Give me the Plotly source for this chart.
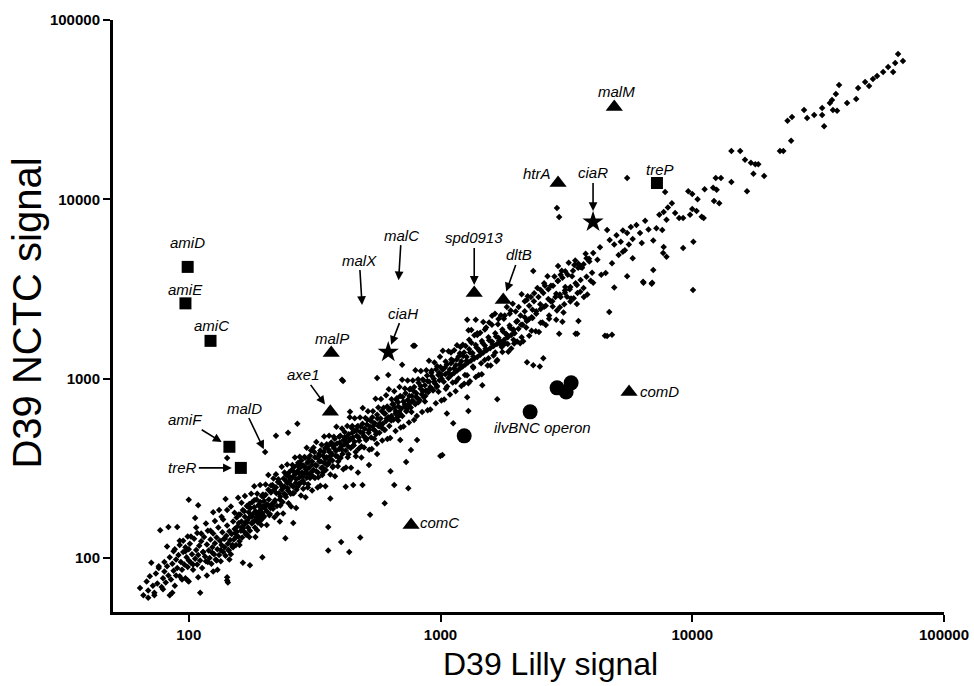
import numpy as np
import plotly.graph_objects as go

# ---------------- data ----------------
background_genes = [
    (64,68),(66,62),(68,74),(69,66),(69,60),(70,79),(72,70),(73,64),(74,82),(75,72),(76,88),(77,143),
    (78,69),(79,77),(80,84),(80,95),(81,73),(82,90),(83,149),(83,80),(84,101),(85,76),(86,93),(86,64),
    (87,85),(88,112),(88,70),(89,98),(90,149),(90,88),(91,104),(92,79),(92,118),(93,95),(94,86),
    (95,108),(95,125),(96,92),(97,77),(97,115),(98,101),(99,89),(99,132),(100,97),(100,112),(100,74),
    (100,211),(101,120),(102,94),(103,105),(104,86),(105,128),(106,99),(106,167),(107,111),(108,92),
    (108,138),(109,104),(109,197),(110,117),(111,97),(111,64),(112,124),(113,88),(114,108),(115,131),
    (116,102),(117,96),(118,119),(118,80),(119,142),(120,110),(121,100),(122,127),(123,93),(124,115),
    (125,137),(125,84),(125,180),(126,105),(127,121),(128,98),(129,130),(130,112),(130,86),(131,148),
    (132,104),(133,125),(134,96),(135,118),(135,170),(136,139),(137,108),(138,128),(139,115),(140,103),
    (140,213),(141,133),(142,152),(142,361),(142,75),(142,78),(143,120),(143,73),(144,110),(145,141),
    (145,98),(146,126),(147,105),(148,136),(149,118),(150,160),(150,115),(151,127),(152,145),(153,138),
    (154,118),(155,168),(155,140),(156,150),(157,132),(158,157),(158,175),(159,124),(160,175),(161,142),
    (162,160),(162,148),(163,130),(164,185),(164,94),(165,152),(166,140),(166,182),(167,170),(168,158),
    (169,135),(170,195),(170,158),(171,162),(172,148),(173,180),(174,168),(174,200),(175,142),(175,91),
    (176,190),(177,172),(178,156),(178,170),(179,205),(180,176),(181,160),(182,192),(182,210),(183,148),
    (184,182),(185,168),(186,212),(186,165),(187,175),(187,143),(188,158),(189,196),(190,180),(190,198),
    (191,170),(192,205),(193,162),(194,188),(194,172),(195,222),(196,178),(196,101),(197,195),(198,168),
    (198,220),(199,208),(200,190),(201,390),(202,225),(203,198),(204,182),(206,198),(207,240),(208,212),
    (210,176),(211,190),(212,232),(214,200),(215,255),(216,188),(218,240),(219,205),(220,210),(222,248),
    (222,480),(223,230),(224,195),(226,265),(227,275),(228,230),(230,212),(230,160),(231,220),(232,258),
    (234,240),(235,250),(236,205),(238,278),(239,228),(240,250),(242,225),(242,129),(243,270),(244,290),
    (246,262),(247,245),(248,238),(248,499),(250,300),(251,285),(252,270),(254,228),(255,255),(256,310),
    (258,282),(259,230),(260,250),(260,157),(262,322),(263,300),(264,292),(266,262),(267,275),(268,240),
    (270,305),(270,560),(271,250),(272,340),(274,280),(275,295),(276,318),(278,262),(279,330),(280,350),
    (282,300),(283,285),(284,270),(286,328),(287,262),(288,295),(290,362),(291,320),(292,312),(294,280),
    (295,298),(296,340),(298,258),(299,345),(300,318),(303,372),(304,290),(306,300),(308,330),(309,345),
    (312,285),(313,310),(315,390),(317,365),(318,330),(321,305),(322,328),(324,362),(326,300),(327,282),
    (330,345),(331,372),(333,398),(335,345),(336,318),(339,290),(340,320),(342,372),(344,390),(345,340),
    (348,410),(349,358),(350,310),(353,365),(354,330),(356,420),(358,110),(358,149),(359,335),(360,400),
    (362,390),(365,352),(365,215),(366,372),(368,440),(371,380),(372,350),(374,325),(377,410),(378,425),
    (380,462),(384,370),(384,395),(388,435),(390,368),(392,345),(396,405),(398,440),(400,480),(403,123),
    (404,420),(406,985),(406,402),(408,380),(410,972),(412,455),(414,430),(416,505),(420,398),(420,250),
    (422,470),(424,440),(428,365),(430,418),(432,490),(434,108),(436,455),(437,653),(438,462),(440,410),
    (444,530),(446,500),(448,470),(450,255),(452,425),(455,445),(456,510),(460,390),(464,515),(465,480),
    (470,545),(470,300),(473,470),(475,450),(480,505),(480,130),(482,540),(485,420),(490,560),(490,255),
    (491,500),(495,480),(500,525),(500,470),(506,455),(510,555),(512,590),(518,500),(520,515),(520,330),
    (524,540),(525,174),(530,470),(530,580),(536,610),(540,545),(542,520),(548,565),(551,510),(554,490),
    (560,630),(560,1010),(560,380),(562,600),(566,545),(572,500),(574,565),(578,600),(584,660),(586,530),
    (590,560),(596,520),(598,640),(600,202),(602,640),(608,580),(611,600),(614,700),(620,610),(620,1050),
    (624,670),(626,545),(632,675),(633,305),(637,585),(638,620),(644,720),(650,590),(650,720),(655,255),
    (656,690),(662,640),(664,660),(668,760),(674,610),(678,740),(680,700),(686,650),(692,800),(692,630),
    (692,455),(698,680),(704,1195),(705,620),(707,790),(712,745),(719,700),(722,720),(726,830),(730,343),
    (733,660),(737,680),(740,760),(745,245),(747,720),(752,800),(754,870),(762,690),(763,400),(768,745),
    (770,800),(778,750),(779,1524),(784,850),(786,900),(790,1524),(794,720),(800,790),(802,830),(807,455),
    (810,780),(817,740),(818,950),(826,760),(834,880),(834,910),(842,820),(850,990),(852,850),(858,790),
    (866,920),(870,800),(875,860),(884,1040),(888,970),(893,840),(902,960),(907,880),(911,900),(920,1080),
    (926,1030),(930,870),(940,1000),(946,960),(950,940),(960,1130),(966,900),(970,910),(980,1050),
    (987,1080),(990,980),(998,370),(1000,1160),(1008,1050),(1010,1000),(1017,375),(1020,1120),(1030,960),
    (1040,1150),(1045,1060),(1050,880),(1060,1200),(1060,640),(1070,1080),(1075,1010),(1090,1130),
    (1100,1220),(1100,1400),(1105,1050),(1120,1260),(1123,565),(1130,1140),(1135,1080),(1150,1190),
    (1150,960),(1160,1280),(1165,1110),(1180,1330),(1190,1200),(1195,1140),(1200,1500),(1210,1250),
    (1225,1170),(1230,1340),(1240,1400),(1250,1050),(1255,1200),(1270,1320),(1270,1260),(1276,2128),
    (1276,789),(1285,1230),(1290,660),(1290,944),(1300,1460),(1300,1650),(1310,1400),(1320,1260),
    (1325,1870),(1340,1390),(1350,1330),(1350,1150),(1360,1290),(1380,1540),(1380,2128),(1390,1490),
    (1400,1320),(1400,1750),(1420,1450),(1430,1420),(1440,1360),(1450,1220),(1460,1620),(1466,920),
    (1470,1580),(1480,1400),(1500,1530),(1500,1880),(1510,1470),(1525,1440),(1550,1700),(1550,1300),
    (1560,1640),(1575,1480),(1600,1610),(1600,2000),(1610,1560),(1625,1520),(1650,1790),(1650,1400),
    (1660,1720),(1675,1560),(1680,1270),(1680,769),(1700,1690),(1700,2150),(1710,1640),(1730,1600),
    (1750,1500),(1760,1880),(1770,1830),(1775,1540),(1790,1650),(1800,2250),(1820,1780),(1830,1760),
    (1850,1700),(1850,1560),(1880,1980),(1890,1920),(1900,2400),(1910,1750),(1940,1870),(1950,1650),
    (1950,1880),(1970,1790),(2000,2080),(2020,2100),(2040,1900),(2080,2250),(2090,2000),(2100,1700),
    (2120,2000),(2160,2380),(2160,2200),(2200,2100),(2200,2750),(2206,1236),(2240,2140),(2250,2550),
    (2300,2200),(2300,1850),(2320,2420),(2335,3990),(2335,1190),(2350,2700),(2400,2300),(2400,2380),
    (2450,2850),(2480,1170),(2490,2600),(2500,2450),(2500,2050),(2560,3000),(2560,1300),(2580,2520),
    (2600,3300),(2620,2550),(2680,3150),(2680,2780),(2700,2250),(2740,2700),(2780,2700),(2800,3300),
    (2860,2850),(2880,2980),(2900,2400),(2900,8950),(2920,3500),(2930,4250),(2960,7980),(2960,1778),
    (2980,2950),(3000,3800),(3000,2850),(3050,3650),(3050,2075),(3100,2600),(3120,3100),(3120,3010),
    (3130,3250),(3200,3800),(3260,3150),(3280,3250),(3300,2800),(3360,4000),(3400,4300),(3440,3400),
    (3440,1778),(3480,3330),(3490,1778),(3500,3000),(3520,4150),(3530,2100),(3590,4200),(3600,3550),
    (3700,4350),(3700,3200),(3800,3700),(3800,4700),(3900,4500),(4000,3900),(4040,5020),(4040,3430),
    (4200,4600),(4300,5400),(4350,3800),(4500,1735),(4530,3890),(4590,6740),(4590,1730),(4680,2355),
    (4700,5940),(4800,4400),(4800,1760),(4900,5600),(4900,3220),(5000,6300),(5100,4900),(5200,5800),
    (5300,6700),(5300,5100),(5400,5200),(5510,6500),(5510,3730),(5510,13150),(5600,5600),(5700,7000),
    (5800,6000),(5800,4700),(6000,7200),(6200,6500),(6300,5700),(6380,3470),(6400,3430),(6500,7600),
    (6700,6800),(6900,3380),(6930,3430),(7000,5900),(7000,4040),(7200,6900),(7400,8200),(7600,6740),
    (7660,5020),(7700,8500),(7700,5430),(7800,11000),(7900,7700),(7900,4780),(8000,9000),(8300,9500),
    (8550,8400),(8870,7870),(9200,7870),(9200,5360),(9640,11100),(9800,8200),(10000,10700),(10000,8830),
    (10070,3125),(10100,5800),(10400,8620),(10500,10000),(10900,8000),(11100,7870),(11200,11400),
    (12100,11600),(12200,9800),(12400,13150),(12500,11300),(12800,9500),(13000,13150),(14300,12500),
    (14300,18600),(15500,18600),(16200,16600),(16500,11100),(17100,16000),(17500,13900),(17800,15700),
    (18300,15700),(19300,13500),(22300,18600),(23000,18600),(23900,27400),(24700,21200),(24900,28800),
    (27800,31500),(28600,28400),(30500,29500),(32800,32300),(32800,29500),(33400,25600),(35200,34400),
    (35900,35800),(36200,31500),(37200,38700),(37600,31200),(38300,43400),(41200,34400),(44800,36300),
    (45600,41800),(48600,45100),(50400,42800),(52200,46900),(54200,48800),(57300,51300),(60000,54700),
    (62800,51300),(64000,57500),(65700,64600),(68700,59000),
]

# genes lying near the edges of the main band
band_edge_genes = [
    (71,94),(73,62),(76,90),(79,67),(82,116),(84,62),(87,109),(89,80),(92,125),(94,76),(97,109),(99,75),
    (102,132),(104,92),(107,148),(109,78),(112,137),(114,108),(117,156),(119,95),(122,142),(124,107),
    (127,161),(129,97),(132,185),(134,111),(137,164),(139,128),(142,185),(144,111),(147,194),(149,116),
    (152,179),(154,131),(157,217),(159,118),(162,203),(164,146),(167,222),(169,137),(172,193),(174,131),
    (177,228),(179,158),(182,251),(184,131),(187,228),(189,180),(192,255),(194,153),(197,226),(199,171),
    (202,257),(204,153),(207,290),(209,173),(212,254),(214,195),(217,278),(219,169),(222,293),(225,176),
    (228,266),(231,196),(234,323),(237,177),(240,300),(243,219),(246,332),(249,202),(252,279),(255,194),
    (258,330),(261,230),(264,364),(267,190),(270,329),(273,259),(276,367),(279,223),(282,327),(285,243),
    (288,366),(291,218),(294,412),(297,247),(300,360),(303,279),(306,398),(309,238),(313,413),(317,279),
    (321,443),(325,247),(329,380),(333,253),(337,428),(341,300),(345,476),(349,251),(353,431),(357,339),
    (361,480),(365,292),(369,429),(373,321),(377,474),(381,286),(386,540),(391,325),(396,475),(401,361),
    (406,528),(411,313),(416,472),(421,320),(426,545),(431,379),(436,610),(441,319),(446,544),(451,424),
    (456,601),(461,369),(467,542),(473,407),(479,608),(485,364),(491,687),(497,413),(503,604),(509,463),
    (515,659),(521,401),(527,586),(533,405),(539,658),(545,463),(552,773),(559,434),(566,690),(573,544),
    (580,771),(587,452),(594,689),(601,517),(608,808),(615,461),(623,872),(631,467),(639,767),(647,595),
    (655,851),(663,511),(671,778),(679,584),(687,900),(695,535),(704,985),(713,542),(722,881),(731,658),
    (740,977),(749,569),(758,879),(767,652),(776,978),(785,589),(795,1113),(805,620),(815,994),(825,759),
    (835,1102),(845,651),(856,981),(867,746),(878,1115),(889,667),(900,1260),(911,674),(922,1107),
    (934,859),(946,1230),(958,729),(970,1174),(982,845),(995,1324),(1008,756),(1021,1429),(1034,765),
    (1048,1247),(1062,903),(1076,1420),(1090,817),(1104,1280),(1118,951),(1133,1439),(1148,850),
    (1163,1535),(1178,1001),(1194,1385),(1210,911),(1226,1545),(1242,936),(1258,1522),(1275,1045),
    (1292,1861),(1309,969),(1327,1584),(1345,1170),(1363,1744),(1381,1022),(1400,1792),(1419,1050),
    (1438,1803),(1458,1057),(1478,2069),(1498,1273),(1518,1928),(1539,1185),(1560,2059),(1581,1185),
    (1602,2243),(1624,1348),(1646,2304),(1668,1251),(1691,2012),(1714,1577),(1737,2258),(1761,1408),
    (1785,2160),(1809,1574),(1834,2512),(1859,1413),(1884,2299),(1910,1471),(1936,2614),(1962,1570),
    (1989,2367),(2016,1613),(2044,2514),(2072,1575),(2100,2961),(2130,1619),(2160,2700),(2190,1927),
    (2220,2886),(2250,1733),(2285,2855),(2320,2181),(2355,2991),(2390,1840),(2425,3201),(2460,1820),
    (2500,3125),(2540,2058),(2580,3405),(2620,1991),(2660,3724),(2700,2160),(2745,3294),(2790,2525),
    (2835,3714),(2880,2131),(2930,3516),(2980,2503),(3030,4000),(3080,2341),(3130,3975),(3180,2862),
    (3230,4425),(3280,2690),(3330,3730),(3380,2806),(3430,4562),(3480,2610),(3530,4378),(3590,3054),
    (3650,4161),(3710,2857),(3770,4976),(3830,2950),(3890,4668),(3950,3516),
]
bg_x = [p[0] for p in background_genes] + [p[0] for p in band_edge_genes]
bg_y = [p[1] for p in background_genes] + [p[1] for p in band_edge_genes]

square_genes = ["amiD", "amiE", "amiC", "amiF", "treR", "treP"]
square_x = [99, 97, 122, 145, 161, 7240]
square_y = [4200, 2630, 1625, 417, 318, 12330]

triangle_genes = ["malM", "htrA", "spd0913", "dltB", "malP", "axe1", "comD", "comC"]
triangle_x = [4900, 2930, 1361, 1775, 368, 365, 5610, 764]
triangle_y = [32700, 12330, 3008, 2748, 1390, 653, 843, 153]

star_genes = ["ciaH", "ciaR"]
star_x = [620, 4036]
star_y = [1406, 7480]

ilv_label = "ilvBNC operon"
ilv_x = [1242, 2270, 2904, 3302, 3155]
ilv_y = [480, 653, 889, 948, 843]

pointer_genes = ["malX", "malC", "malD"]
pointer_x = [489, 680, 201]
pointer_y = [2445, 3365, 390]

tick_vals = [100, 1000, 10000, 100000]
tick_text = ["100", "1000", "10000", "100000"]

x_title = "D39 Lilly signal"
y_title = "D39 NCTC signal"

# ---------------- figure ----------------
fig = go.Figure()
fig.add_trace(go.Scatter(x=bg_x, y=bg_y, mode="markers",
                         marker=dict(symbol="diamond", size=5, color="black", line=dict(width=0)),
                         hoverinfo="skip"))
fig.add_trace(go.Scatter(x=square_x, y=square_y, mode="markers", text=square_genes,
                         marker=dict(symbol="square", size=12, color="black")))
fig.add_trace(go.Scatter(x=triangle_x, y=triangle_y, mode="markers", text=triangle_genes,
                         marker=dict(symbol="triangle-up", size=15, color="black")))
fig.add_trace(go.Scatter(x=star_x, y=star_y, mode="markers", text=star_genes,
                         marker=dict(symbol="star", size=16, color="black")))
fig.add_trace(go.Scatter(x=ilv_x, y=ilv_y, mode="markers",
                         marker=dict(symbol="circle", size=15, color="black")))

pos = {}
for g, x, y in zip(square_genes, square_x, square_y):
    pos[g] = (x, y)
for g, x, y in zip(triangle_genes, triangle_x, triangle_y):
    pos[g] = (x, y)
for g, x, y in zip(star_genes, star_x, star_y):
    pos[g] = (x, y)
for g, x, y in zip(pointer_genes, pointer_x, pointer_y):
    pos[g] = (x, y)

label_font = dict(family="Liberation Sans", size=15, color="black", style="italic")

# arrow labels: (ax, ay, standoff) in pixels
arrow_labels = {
    "malX": (-3, -49, 4), "malC": (3, -49, 4), "malD": (-21, -44, 3),
    "spd0913": (0, -55, 8), "dltB": (16, -45, 9), "ciaH": (15, -39, 8),
    "ciaR": (0, -49, 11), "axe1": (-27, -37, 9), "amiF": (-44, -27, 9),
    "treR": (-58, 0, 9),
}
for g, (ax, ay, so) in arrow_labels.items():
    x, y = pos[g]
    fig.add_annotation(x=np.log10(x), y=np.log10(y), xref="x", yref="y",
                       text=g, font=label_font, showarrow=True,
                       ax=ax, ay=ay, arrowhead=2, arrowsize=1.1, arrowwidth=1.6,
                       arrowcolor="black", standoff=so)

# plain labels: (xshift, yshift, xanchor)
plain_labels = {
    "amiD": (0, 24, "center"), "amiE": (0, 14, "center"), "amiC": (1, 15, "center"),
    "malP": (1, 15, "center"), "htrA": (-21, 10, "center"), "malM": (2, 16, "center"),
    "treP": (3, 14, "center"), "comD": (9, 0, "left"), "comC": (7, 2, "left"),
}
for g, (xs, ys, xa) in plain_labels.items():
    x, y = pos[g]
    fig.add_annotation(x=np.log10(x), y=np.log10(y), xref="x", yref="y",
                       text=g, font=label_font, showarrow=False,
                       xshift=xs, yshift=ys, xanchor=xa)

fig.add_annotation(x=np.log10(ilv_x[1]), y=np.log10(ilv_y[1]), xref="x", yref="y",
                   text=ilv_label, font=label_font, showarrow=False,
                   xshift=12, yshift=-16)

# axis titles
fig.add_annotation(text=x_title, xref="paper", yref="paper", x=0.526, y=-0.088,
                   xanchor="center", yanchor="middle", showarrow=False,
                   font=dict(family="Liberation Sans", size=32, color="black"))
fig.add_annotation(text=y_title, xref="paper", yref="paper", x=-0.104, y=0.505,
                   xanchor="center", yanchor="middle", showarrow=False, textangle=-90,
                   font=dict(family="Liberation Sans", size=40, color="black"))

axis_common = dict(
    type="log", range=[np.log10(50), 5], tickvals=tick_vals, ticktext=tick_text,
    showgrid=False, zeroline=False, showline=True, linecolor="black", linewidth=3,
    ticks="outside", ticklen=7, tickwidth=2, tickcolor="black", automargin=False,
    tickfont=dict(family="Liberation Sans", size=15, color="black", weight="bold"),
)
fig.update_xaxes(**axis_common)
fig.update_yaxes(**axis_common)

fig.update_layout(
    width=974, height=686,
    margin=dict(l=113, r=30, t=20, b=74),
    plot_bgcolor="white", paper_bgcolor="white",
    showlegend=False,
)

fig.write_html("out.html", config={"displayModeBar": False},
               post_script="document.body.style.margin='0';document.body.style.overflow='hidden';")
